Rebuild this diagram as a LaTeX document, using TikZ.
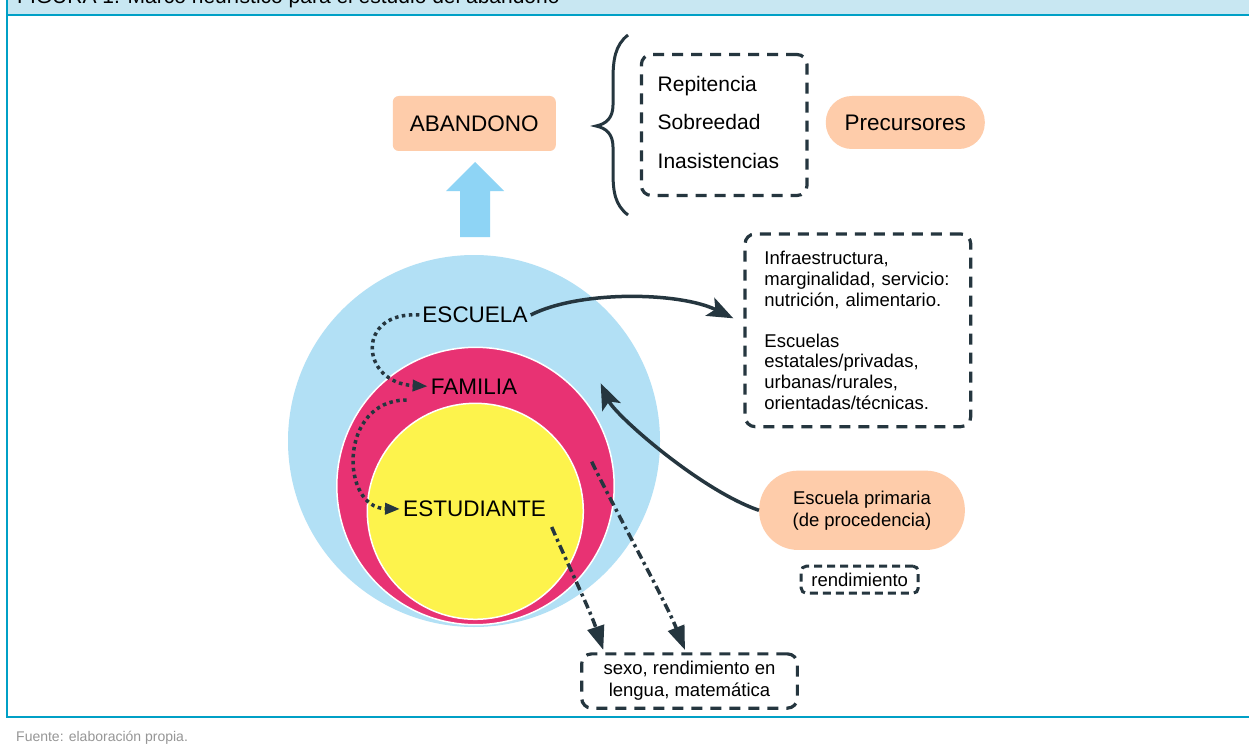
\documentclass[tikz,border=0pt]{standalone}
\usepackage{fontspec}
\setmainfont{Liberation Sans}
\usetikzlibrary{arrows.meta}
\definecolor{dark}{RGB}{37,54,63}
\definecolor{cblue}{RGB}{178,224,245}
\definecolor{cmag}{RGB}{232,50,115}
\definecolor{cyel}{RGB}{253,243,76}
\definecolor{peach}{RGB}{254,204,170}
\definecolor{arrblue}{RGB}{142,212,245}
\definecolor{teal}{RGB}{0,160,198}
\definecolor{barfill}{RGB}{200,231,242}
\definecolor{srcgray}{RGB}{150,150,150}
\begin{document}
\begin{tikzpicture}[x=1pt,y=-1pt,
  dbox/.style={draw=dark, line width=3.2pt, dash pattern=on 11pt off 8pt, rounded corners=10pt, inner sep=0pt},
  pill/.style={fill=peach, inner sep=0pt},
  big/.style={font=\fontsize{22.5}{27}\selectfont, text=black},
  small/.style={font=\fontsize{18.5}{21}\selectfont, text=black},
  conn/.style={draw=dark, line width=3.5pt, -{Stealth[length=26pt,width=20pt,inset=6pt]}},
  dotconn/.style={draw=dark, line width=3.5pt, dash pattern=on 3.5pt off 3.5pt, -{Triangle[length=15pt,width=11pt]}},
  dashdot/.style={draw=dark, line width=3.5pt, dash pattern=on 9pt off 4pt on 3pt off 4pt, -{Triangle[length=24pt,width=17pt]}}
]
\useasboundingbox (0,0) rectangle (1249,746);
\fill[white] (0,0) rectangle (1249,746);

% frame
\fill[barfill] (7,0) rectangle (1249,15);
\node[anchor=base west, font=\fontsize{21}{25}\selectfont, inner sep=0pt, text=black] (title) at (17,4) {FIGURA 1. Marco heurístico para el estudio del abandono};
\draw[teal, line width=2pt] (7,15.5) -- (1249,15.5);
\draw[teal, line width=2pt] (7,0) -- (7,717);
\draw[teal, line width=2pt] (6,717) -- (1249,717);
\node[anchor=base west, font=\fontsize{14}{16}\selectfont, text=srcgray, inner sep=0pt] (fuente) at (16,741) {Fuente: elaboración propia.};

% circles
\node[circle, fill=cblue, minimum size=372pt, inner sep=0pt] (outer) at (474,441) {};
\node[circle, fill=cmag, draw=white, line width=1.5pt, minimum size=277.4pt, inner sep=0pt] (mid) at (475.5,486) {};
\node[circle, fill=cyel, draw=white, line width=1.5pt, minimum size=216pt, inner sep=0pt] (inner) at (475.3,511.3) {};

\node[big, anchor=base, inner sep=3pt] (escuela) at (475,322.7) {ESCUELA};
\node[big, anchor=base, inner sep=3pt] (familia) at (474,394) {FAMILIA};
\node[big, anchor=base, inner sep=3pt] (estudiante) at (474.5,516.7) {ESTUDIANTE};

% abandono + up arrow
\node[pill, rounded corners=6pt, minimum width=163pt, minimum height=55pt, big] (abandono) at (474.3,123.5) {ABANDONO};
\fill[arrblue] (460,237) -- (460,191) -- (446,191) -- (475,162) -- (504,191) -- (490,191) -- (490,237) -- cycle;

% precursors
\node[dbox, minimum width=165pt, minimum height=141pt, text width=133pt, inner xsep=16.3pt, align=left, font=\fontsize{21}{38.4}\selectfont] (prec) at (724.2,125) {Repitencia\\Sobreedad\\Inasistencias\rule[-6pt]{0pt}{6pt}};
\draw[dark, line width=3pt] (628,35) .. controls (615,45) and (613,60) .. (613,80) -- (613,105) .. controls (613,118) and (606,124) .. (596,126) .. controls (606,128) and (613,134) .. (613,147) -- (613,172) .. controls (613,192) and (615,205) .. (628,215);
\node[pill, rounded corners=26pt, minimum width=159pt, minimum height=53pt, big] (precursores) at (905.3,122.5) {Precursores};

% right boxes
\node[dbox, minimum width=225.7pt, minimum height=192.7pt, text width=187pt, inner xsep=19.3pt, align=left, font=\fontsize{18.5}{20.6}\selectfont] (infra) at (857.9,330.3) {Infraestructura,\\marginalidad, servicio:\\nutrición, alimentario.\\[20.6pt]Escuelas\\estatales/privadas,\\urbanas/rurales,\\orientadas/técnicas.};
\node[pill, rounded corners=39pt, minimum width=205.7pt, minimum height=79.3pt, align=center, font=\fontsize{18.5}{22}\selectfont] (primaria) at (862,510.3) {Escuela primaria\\(de procedencia)};
\node[dbox, line width=3pt, rounded corners=5pt, dash pattern=on 8pt off 5pt, minimum width=117pt, minimum height=27pt, small] (rend) at (859.7,579.7) {rendimiento};
\node[dbox, minimum width=215.7pt, minimum height=54.3pt, align=center, font=\fontsize{18.5}{21.7}\selectfont] (sexo) at (689.5,681) {sexo, rendimiento en\\lengua, matemática};

% connector coordinates
\coordinate (t1) at (733.3,318.3);
\coordinate (t2) at (600.7,383.3);
\coordinate (s5) at (551.7,527);
\coordinate (t5) at (603.3,650);
\coordinate (s6) at (591.7,461.7);
\coordinate (t6) at (685,650);

% connectors
\draw[conn] (escuela.east) .. controls (580,290) and (680,292) .. (t1);
\draw[conn] (primaria.west) .. controls (700,490) and (615,415) .. (t2);
\draw[dotconn] (escuela.west) .. controls (355,311) and (360,383) .. (familia.west);
\draw[dotconn] (406.7,400) .. controls (338,400) and (340,508) .. (estudiante.west);
\draw[dashdot] (s5) .. controls (568,565) and (590,610) .. (t5);
\draw[dashdot] (s6) .. controls (615,510) and (665,600) .. (t6);
\end{tikzpicture}
\end{document}
